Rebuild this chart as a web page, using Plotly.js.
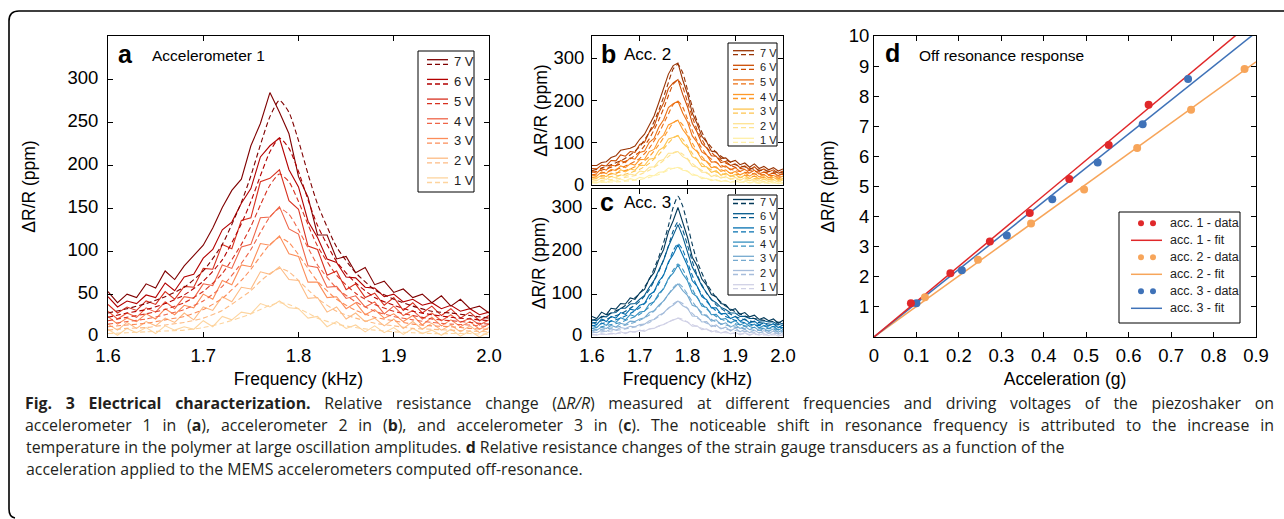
<!DOCTYPE html>
<html>
<head>
<meta charset="utf-8">
<script src="https://cdn.plot.ly/plotly-3.0.1.min.js"></script>
<style>html,body{margin:0;padding:0;background:#fff;}#chart{width:1284px;height:519px;}</style>
</head>
<body>
<div id="chart"></div>
<script>
// ---------- data ----------
const freq = [1.60,1.61,1.62,1.63,1.64,1.65,1.66,1.67,1.68,1.69,1.70,1.71,1.72,1.73,1.74,1.75,1.76,1.77,1.78,1.79,1.80,1.81,1.82,1.83,1.84,1.85,1.86,1.87,1.88,1.89,1.90,1.91,1.92,1.93,1.94,1.95,1.96,1.97,1.98,1.99,2.00];
const fitFreq = [1.60,1.62,1.64,1.66,1.68,1.70,1.72,1.74,1.75,1.76,1.77,1.78,1.79,1.80,1.81,1.82,1.84,1.86,1.88,1.90,1.92,1.94,1.96,1.98,2.00];
const voltLabels = ['1 V','2 V','3 V','4 V','5 V','6 V','7 V'];

// Accelerometer 1 (panel a) measured
const a1V = [9,2,10,5,11,4,13,8,12,9,19,12,24,20,29,27,39,35,42,34,33,22,24,12,18,10,14,6,13,5,11,3,10,4,8,2,9,1,7,0,6];
const a2V = [15,8,17,10,18,13,22,17,28,20,35,31,47,41,58,56,76,73,82,67,66,45,46,29,35,21,28,18,22,13,21,10,18,9,16,8,14,6,13,5,11];
const a3V = [24,15,22,18,27,21,33,26,37,34,50,44,66,61,84,82,109,107,118,97,94,64,64,46,47,33,40,26,32,22,27,18,25,14,23,13,20,12,18,9,15];
const a4V = [30,21,28,23,34,29,41,33,47,45,62,60,84,80,105,108,139,140,152,126,120,83,81,58,59,45,48,35,41,27,36,25,31,21,28,19,26,17,22,14,20];
const a5V = [38,28,35,31,42,38,53,44,59,58,80,79,108,103,136,139,181,185,195,159,149,106,102,72,77,55,62,46,51,37,46,31,40,28,36,25,33,22,29,19,25];
const a6V = [47,35,42,39,49,46,63,54,70,73,92,102,125,134,156,173,210,223,232,195,175,135,116,91,87,70,69,58,57,47,50,41,44,37,40,33,37,30,33,26,29];
const a7V = [53,40,50,46,62,57,77,67,83,95,107,127,151,171,184,223,249,285,262,237,187,163,119,119,91,94,75,81,61,65,52,56,46,50,40,48,36,44,33,36,28];
// Accelerometer 1 fits
const aFit1V = [4,5,6,7,8,11,16,23,27,32,37,40,38,33,28,22,15,11,8,6,5,4,4,4,3];
const aFit2V = [8,10,11,14,17,22,31,46,54,65,74,80,76,66,55,45,30,22,16,13,10,9,8,7,6];
const aFit3V = [12,14,16,20,24,32,45,66,79,94,108,116,110,96,80,65,44,31,23,19,15,13,12,10,9];
const aFit4V = [15,18,21,26,32,42,59,86,102,122,140,150,143,125,104,84,57,41,30,24,20,17,15,14,12];
const aFit5V = [19,23,27,32,40,53,74,108,129,154,177,190,181,158,131,106,72,51,38,30,25,21,19,17,15];
const aFit6V = [23,28,32,39,49,65,90,132,158,188,216,232,220,193,160,130,88,63,46,37,30,26,23,21,19];
const aFit7V = [28,33,39,47,58,77,108,157,188,224,257,276,262,229,190,155,105,75,55,44,36,30,28,25,22];

// Accelerometer 2 (panel b) measured
const b1V = [6,5,9,6,11,9,14,10,15,12,18,16,23,22,30,31,40,39,42,35,33,23,23,15,16,10,13,8,11,6,10,6,9,5,8,4,8,4,7,3,6];
const b2V = [13,10,17,13,20,17,24,21,26,23,33,31,42,43,57,60,75,75,79,67,61,45,42,30,30,20,24,16,20,13,18,11,17,10,15,9,14,8,12,7,12];
const b3V = [18,16,23,20,28,25,36,31,38,35,47,46,61,63,82,89,109,112,117,99,89,67,61,44,43,30,34,23,28,20,25,17,23,15,22,14,20,12,18,11,16];
const b4V = [24,21,31,27,37,34,45,41,50,47,60,61,79,84,107,118,142,148,153,131,116,89,79,60,56,41,43,32,36,27,32,24,29,21,28,19,25,17,23,16,21];
const b5V = [32,28,39,35,47,45,58,53,64,61,77,80,101,110,137,154,183,192,198,170,149,116,101,78,71,54,55,42,45,36,41,32,37,28,35,26,31,24,29,22,27];
const b6V = [39,38,47,45,58,57,71,68,79,77,96,101,125,139,171,194,228,241,249,214,185,146,125,98,88,69,68,53,56,46,50,41,45,36,43,33,38,31,36,28,33];
const b7V = [46,46,53,55,65,69,82,85,87,92,108,120,143,163,195,227,262,282,288,248,215,170,145,115,102,80,78,63,64,54,58,48,52,42,50,39,44,36,41,33,38];
// Accelerometer 2 fits
const bFit1V = [5,6,7,8,10,13,18,25,30,35,39,41,38,32,27,22,15,11,9,7,6,5,5,5,4];
const bFit2V = [9,11,13,16,20,25,35,49,58,67,76,79,73,62,51,42,28,21,17,13,12,10,9,9,8];
const bFit3V = [14,16,20,23,29,37,51,72,85,99,111,116,108,92,75,61,42,31,24,20,17,15,14,13,12];
const bFit4V = [18,21,26,31,38,49,67,95,112,130,147,153,142,121,99,81,55,41,32,26,23,20,18,17,15];
const bFit5V = [24,28,34,40,50,63,87,123,145,168,190,198,184,156,129,105,71,53,42,34,30,26,24,22,20];
const bFit6V = [30,35,42,50,62,79,109,154,181,211,238,248,231,196,161,131,89,67,52,42,37,32,30,27,25];
const bFit7V = [34,40,48,57,71,91,125,177,208,242,274,285,265,225,185,151,103,77,60,48,43,37,34,31,29];

// Accelerometer 3 (panel c) measured
const c1V = [7,4,8,6,9,7,12,8,13,11,16,13,19,20,26,29,35,39,44,38,35,25,26,17,19,12,15,9,13,7,11,5,10,4,9,4,8,3,8,2,6];
const c2V = [14,10,16,13,19,16,22,20,25,24,29,30,38,41,51,56,68,74,84,73,67,49,48,35,36,24,28,19,23,14,21,12,18,10,16,9,15,8,14,6,12];
const c3V = [20,16,23,20,27,23,32,29,37,36,42,45,57,61,74,84,100,111,124,108,97,74,70,52,51,37,40,29,33,23,29,20,25,17,23,15,20,13,19,11,17];
const c4V = [28,22,33,27,38,34,45,40,52,48,58,60,77,82,102,112,137,149,168,147,131,102,94,72,69,52,53,41,43,33,38,28,33,25,30,21,27,20,25,16,22];
const c5V = [35,29,42,36,48,44,57,53,65,62,74,78,98,106,130,144,175,192,215,190,166,131,119,94,87,68,68,54,55,43,48,37,42,33,37,28,33,26,31,22,28];
const c6V = [40,38,48,47,56,57,67,67,77,78,88,97,116,132,156,179,211,236,262,234,200,163,142,119,103,87,80,69,64,56,56,48,48,43,43,37,38,35,35,29,32];
const c7V = [48,43,58,52,67,65,78,77,91,88,103,111,136,150,181,204,245,271,302,268,232,186,166,135,121,99,94,78,75,62,66,53,57,47,51,41,45,38,42,32,39];
// Accelerometer 3 fits
const cFit1V = [5,6,7,9,11,14,18,25,29,35,40,44,41,35,29,24,17,12,10,8,7,6,5,5,4];
const cFit2V = [10,12,14,17,21,26,34,48,56,66,77,84,78,67,55,45,32,24,18,15,13,11,10,9,8];
const cFit3V = [15,18,21,25,31,39,51,71,84,99,115,125,116,100,83,68,48,35,28,23,19,16,15,14,13];
const cFit4V = [20,24,29,34,43,53,70,97,114,134,156,170,158,136,112,92,65,48,37,31,26,22,20,19,17];
const cFit5V = [26,31,37,44,55,68,89,124,146,172,201,218,203,174,144,118,83,61,48,39,33,28,26,24,22];
const cFit6V = [32,38,46,54,67,83,110,153,180,212,247,268,249,214,177,145,102,75,59,48,40,35,32,29,27];
const cFit7V = [39,46,56,66,82,102,134,187,220,259,302,328,305,262,216,177,125,92,72,59,49,43,39,36,33];

// Panel d: off-resonance response
const acc1X = [0.087,0.180,0.273,0.367,0.460,0.553,0.647];
const acc1Y = [1.12,2.12,3.17,4.12,5.25,6.38,7.72];
const acc2X = [0.120,0.245,0.370,0.495,0.620,0.747,0.873];
const acc2Y = [1.32,2.57,3.77,4.90,6.28,7.55,8.90];
const acc3X = [0.100,0.207,0.313,0.420,0.527,0.633,0.740];
const acc3Y = [1.12,2.22,3.37,4.58,5.80,7.07,8.57];
const fitX = [0, 0.9];
const acc1FitY = [0, 10.58];
const acc2FitY = [0, 9.14];
const acc3FitY = [0, 10.12];
const dLabels = ['acc. 1 - data','acc. 1 - fit','acc. 2 - data','acc. 2 - fit','acc. 3 - data','acc. 3 - fit'];

const freqTicks = [1.6,1.7,1.8,1.9,2.0];
const freqTickText = ['1.6','1.7','1.8','1.9','2.0'];
const accTicks = [0,0.1,0.2,0.3,0.4,0.5,0.6,0.7,0.8,0.9];
const accTickText = ['0','0.1','0.2','0.3','0.4','0.5','0.6','0.7','0.8','0.9'];
const dYTicks = [1,2,3,4,5,6,7,8,9,10];

// ---------- styling ----------
const colorsA = ['#fdd49e','#fdbb84','#fc8d59','#ef6548','#d7301f','#b30000','#7f0000'];
const colorsB = ['#fff0a8','#fee391','#fec44f','#fe9929','#ec7014','#cc4c02','#993404'];
const colorsC = ['#d0d1e6','#a6bddb','#74a9cf','#3690c0','#0570b0','#045a8d','#023858'];
const dColors = {acc1:'#e0282a', acc2:'#f7a55a', acc3:'#3f72b8'};

const W = 1284, H = 519;
const px = x => x / W;
const py = y => 1 - y / H;
const FONT = '"Liberation Sans", Arial, Helvetica, sans-serif';

const measA = [a1V,a2V,a3V,a4V,a5V,a6V,a7V];
const fitA = [aFit1V,aFit2V,aFit3V,aFit4V,aFit5V,aFit6V,aFit7V];
const measB = [b1V,b2V,b3V,b4V,b5V,b6V,b7V];
const fitB = [bFit1V,bFit2V,bFit3V,bFit4V,bFit5V,bFit6V,bFit7V];
const measC = [c1V,c2V,c3V,c4V,c5V,c6V,c7V];
const fitC = [cFit1V,cFit2V,cFit3V,cFit4V,cFit5V,cFit6V,cFit7V];

const traces = [];
function addPanel(meas, fits, colors, xa, ya) {
  meas.forEach((ys, i) => traces.push({x: freq, y: ys, xaxis: xa, yaxis: ya, type: 'scatter', mode: 'lines',
    line: {color: colors[i], width: 1.1}, name: voltLabels[i], showlegend: false, hoverinfo: 'skip'}));
  fits.forEach((ys, i) => traces.push({x: fitFreq, y: ys, xaxis: xa, yaxis: ya, type: 'scatter', mode: 'lines',
    line: {color: colors[i], width: 1.1, dash: '5px,3px', shape: 'spline', smoothing: 0.6}, name: voltLabels[i] + ' fit', showlegend: false, hoverinfo: 'skip'}));
}
addPanel(measA, fitA, colorsA, 'x', 'y');
addPanel(measB, fitB, colorsB, 'x2', 'y2');
addPanel(measC, fitC, colorsC, 'x3', 'y3');

traces.push({x: fitX, y: acc2FitY, xaxis: 'x4', yaxis: 'y4', mode: 'lines', line: {color: dColors.acc2, width: 1.5}, name: 'acc. 2 - fit', showlegend: false});
traces.push({x: fitX, y: acc3FitY, xaxis: 'x4', yaxis: 'y4', mode: 'lines', line: {color: dColors.acc3, width: 1.5}, name: 'acc. 3 - fit', showlegend: false});
traces.push({x: fitX, y: acc1FitY, xaxis: 'x4', yaxis: 'y4', mode: 'lines', line: {color: dColors.acc1, width: 1.5}, name: 'acc. 1 - fit', showlegend: false});
traces.push({x: acc2X, y: acc2Y, xaxis: 'x4', yaxis: 'y4', mode: 'markers', marker: {color: dColors.acc2, size: 8}, name: 'acc. 2 - data', showlegend: false});
traces.push({x: acc3X, y: acc3Y, xaxis: 'x4', yaxis: 'y4', mode: 'markers', marker: {color: dColors.acc3, size: 8}, name: 'acc. 3 - data', showlegend: false});
traces.push({x: acc1X, y: acc1Y, xaxis: 'x4', yaxis: 'y4', mode: 'markers', marker: {color: dColors.acc1, size: 8}, name: 'acc. 1 - data', showlegend: false});

const TICKSIZE = 18.5;
function axis(domain, range, extra) {
  return Object.assign({domain: domain, range: range, showline: true, linecolor: '#000', linewidth: 1,
    mirror: 'ticks', ticks: 'inside', ticklen: 5, tickwidth: 1, tickcolor: '#000', showgrid: false, zeroline: false,
    tickfont: {family: FONT, size: TICKSIZE, color: '#000'}, tickmode: 'array'}, extra);
}
const yTitle = (standoff) => ({text: 'ΔR/R (ppm)', font: {family: FONT, size: 17.5, color: '#000'}, standoff: standoff});
const xTitle = (t) => ({text: t, font: {family: FONT, size: 17.5, color: '#000'}, standoff: 7});

const shapes = [];
const annotations = [];

// outer frame
shapes.push({type: 'path', xref: 'paper', yref: 'paper',
  path: `M ${px(1284)} ${py(11)} L ${px(19)} ${py(11)} Q ${px(9)} ${py(11)} ${px(9)} ${py(21)} L ${px(9)} ${py(509)} Q ${px(9)} ${py(517)} ${px(15)} ${py(518)}`,
  line: {color: '#000', width: 1.6}});

// custom legends (solid + dashed sample per voltage, like the original)
function voltLegend(box, row0, step, lineX0, lineX1, textX, fontSize, colors, gap) {
  shapes.push({type: 'rect', xref: 'paper', yref: 'paper', x0: px(box[0]), x1: px(box[1]), y0: py(box[2]), y1: py(box[3]),
    line: {color: '#000', width: 1}, fillcolor: 'rgba(255,255,255,1)', layer: 'above'});
  for (let k = 0; k < 7; k++) {
    const i = 6 - k;
    const yc = row0 + k * step;
    shapes.push({type: 'line', xref: 'paper', yref: 'paper', x0: px(lineX0), x1: px(lineX1), y0: py(yc - gap), y1: py(yc - gap),
      line: {color: colors[i], width: 1.3}, layer: 'above'});
    shapes.push({type: 'line', xref: 'paper', yref: 'paper', x0: px(lineX0), x1: px(lineX1), y0: py(yc + gap), y1: py(yc + gap),
      line: {color: colors[i], width: 1.3, dash: '5px,3px'}, layer: 'above'});
    annotations.push({xref: 'paper', yref: 'paper', x: px(textX), y: py(yc), xanchor: 'left', yanchor: 'middle', showarrow: false,
      text: voltLabels[i], font: {family: FONT, size: fontSize, color: '#222'}});
  }
}
voltLegend([418, 474, 51, 192], 62, 19.7, 427, 448, 452, 13, colorsA, 2.3);
voltLegend([728, 777, 43, 146], 52.7, 14.6, 733, 754, 758, 11, colorsB, 2);
voltLegend([728, 777, 195, 295], 201.5, 14.2, 733, 754, 758, 11, colorsC, 2);

// legend d
shapes.push({type: 'rect', xref: 'paper', yref: 'paper', x0: px(1119), x1: px(1240), y0: py(212), y1: py(323),
  line: {color: '#000', width: 1}, fillcolor: '#fff', layer: 'above'});
const dLegColors = [dColors.acc1, dColors.acc1, dColors.acc2, dColors.acc2, dColors.acc3, dColors.acc3];
dLabels.forEach((lab, k) => {
  const yc = 223.3 + k * 17;
  if (k % 2 === 0) {
    [1141, 1153].forEach(cx => shapes.push({type: 'circle', xref: 'paper', yref: 'paper', xsizemode: 'pixel', ysizemode: 'pixel',
      xanchor: px(cx), yanchor: py(yc), x0: -3, x1: 3, y0: -3, y1: 3, fillcolor: dLegColors[k], line: {width: 0}, layer: 'above'}));
  } else {
    shapes.push({type: 'line', xref: 'paper', yref: 'paper', x0: px(1131), x1: px(1162), y0: py(yc), y1: py(yc),
      line: {color: dLegColors[k], width: 1.5}, layer: 'above'});
  }
  annotations.push({xref: 'paper', yref: 'paper', x: px(1168), y: py(yc), xanchor: 'left', yanchor: 'middle', showarrow: false,
    text: lab, font: {family: FONT, size: 12.5, color: '#222'}});
});

// panel labels
function panelLabel(letter, lx, ly, title, tx, ty, tsize) {
  annotations.push({xref: 'paper', yref: 'paper', x: px(lx), y: py(ly), xanchor: 'center', yanchor: 'middle', showarrow: false,
    text: '<b>' + letter + '</b>', font: {family: FONT, size: 25, color: '#000'}});
  annotations.push({xref: 'paper', yref: 'paper', x: px(tx), y: py(ty), xanchor: 'left', yanchor: 'middle', showarrow: false,
    text: title, font: {family: FONT, size: tsize, color: '#000'}});
}
panelLabel('a', 125, 54, 'Accelerometer 1', 150, 56, 15.5);
panelLabel('b', 608, 54, 'Acc. 2', 622, 55, 17);
panelLabel('c', 607, 202, 'Acc. 3', 622, 202, 17);
panelLabel('d', 892, 53, 'Off resonance response', 917, 56, 15.5);

// caption: one text per line; the first two lines are justified as in print
const captionLines = [
  '<b>Fig. 3 Electrical characterization.</b> Relative resistance change (Δ<i>R/R</i>) measured at different frequencies and driving voltages of the piezoshaker on',
  'accelerometer 1 in (<b>a</b>), accelerometer 2 in (<b>b</b>), and accelerometer 3 in (<b>c</b>). The noticeable shift in resonance frequency is attributed to the increase in',
  'temperature in the polymer at large oscillation amplitudes. <b>d</b> Relative resistance changes of the strain gauge transducers as a function of the',
  'acceleration applied to the MEMS accelerometers computed off-resonance.'
];
const justifyLine = [true, true, false, false];
const captionStart = annotations.length;
const CAP_LEFT = 25, CAP_RIGHT = 1274;
captionLines.forEach((t, i) => annotations.push({xref: 'paper', yref: 'paper', x: px(CAP_LEFT), y: py(403 + i * 22), xanchor: 'left', yanchor: 'middle',
  showarrow: false, borderpad: 0, text: t, font: {family: '"Open Sans", "Noto Sans", sans-serif', size: 15.9, color: '#231f20'}}));

const layout = {
  width: W, height: H, margin: {l: 0, r: 0, t: 0, b: 0}, paper_bgcolor: '#fff', plot_bgcolor: '#fff', showlegend: false,
  font: {family: FONT, color: '#000'},
  xaxis: axis([px(108), px(489)], [1.6, 2.0], {anchor: 'y', tickvals: freqTicks, ticktext: freqTickText, title: xTitle('Frequency (kHz)'), ticklabelstandoff: 2}),
  yaxis: axis([py(337), py(36)], [0, 351], {anchor: 'x', tickvals: [0,50,100,150,200,250,300], title: yTitle(27), ticklabelstandoff: 5, ticklabelshift: -2}),
  xaxis2: axis([px(592), px(783)], [1.6, 2.0], {anchor: 'y2', tickvals: freqTicks, showticklabels: false}),
  yaxis2: axis([py(185), py(36)], [0, 352], {anchor: 'x2', tickvals: [0,100,200,300], title: yTitle(1), ticklabelstandoff: 3}),
  xaxis3: axis([px(592), px(783)], [1.6, 2.0], {anchor: 'y3', tickvals: freqTicks, ticktext: freqTickText, title: xTitle('Frequency (kHz)'), ticklabelstandoff: 2}),
  yaxis3: axis([py(337), py(189)], [0, 345], {anchor: 'x3', tickvals: [0,100,200,300], title: yTitle(1), ticklabelstandoff: 5, ticklabelshift: -2}),
  xaxis4: axis([px(874), px(1256)], [0, 0.9], {anchor: 'y4', tickvals: accTicks, ticktext: accTickText, title: xTitle('Acceleration (g)'), ticklabelstandoff: 2}),
  yaxis4: axis([py(337), py(36)], [0, 10], {anchor: 'x4', tickvals: dYTicks, title: yTitle(9)}),
  shapes: shapes,
  annotations: annotations
};

Plotly.newPlot('chart', traces, layout, {staticPlot: true, displayModeBar: false}).then(gd => {
  const target = CAP_RIGHT - CAP_LEFT;
  const origin = gd.getBoundingClientRect();
  captionLines.forEach((t, i) => {
    if (!justifyLine[i]) return;
    const el = gd.querySelector('.annotation[data-index="' + (captionStart + i) + '"] text.annotation-text');
    if (!el) return;
    const w = el.getComputedTextLength();
    const spaces = (el.textContent.match(/ /g) || []).length;
    if (spaces && w > 0 && w < target) el.style.wordSpacing = ((target - w) / spaces).toFixed(2) + 'px';
    // keep the justified line starting at the caption's left margin
    const left = el.getBoundingClientRect().left - origin.left;
    const x0 = parseFloat(el.getAttribute('x') || '0');
    el.setAttribute('x', (x0 + (CAP_LEFT - left)).toFixed(2));
  });
});
</script>
</body>
</html>
